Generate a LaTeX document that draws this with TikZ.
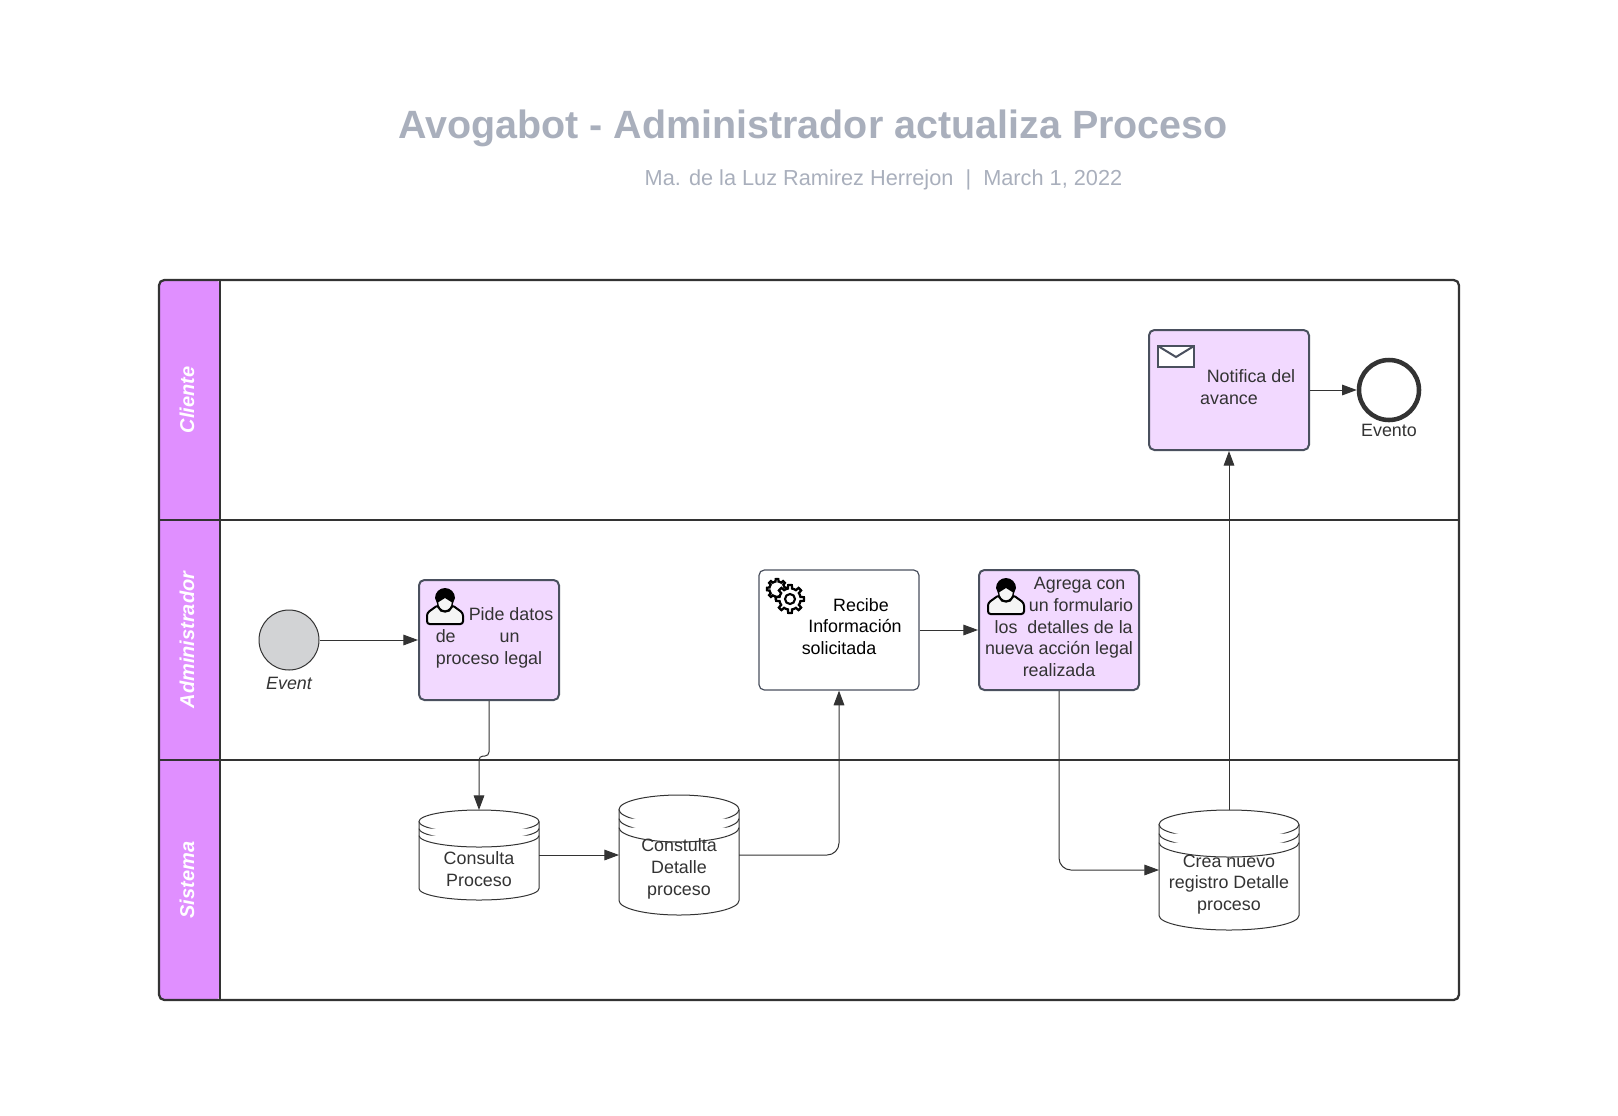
\documentclass[tikz,border=0pt]{standalone}
\usepackage{fontspec}
\setmainfont{Liberation Sans}
\usetikzlibrary{arrows.meta}
\definecolor{bpLine}{HTML}{4A505E}
\definecolor{bpDark}{HTML}{333333}
\definecolor{bpLane}{HTML}{E08FFF}
\definecolor{bpTask}{HTML}{F2D9FF}
\definecolor{bpTitle}{HTML}{A9AFBC}
\definecolor{bpEvent}{HTML}{D2D3D5}

\newcommand{\bpfont}{\fontsize{13.4}{16.3}\selectfont}

% user icon: left, top
\newcommand{\bpuser}[2]{
  \draw[black, line width=1.5pt, fill=white!96!black, rounded corners=2pt] (#1,#2+36) -- (#1,#2+25) -- (#1+11,#2+17)
    .. controls (#1+13,#2+25) and (#1+23,#2+25) .. (#1+25,#2+17) -- (#1+36,#2+25) -- (#1+36,#2+36) -- cycle;
  \draw[black, line width=1pt, fill=white!96!black] (#1+18,#2+14) ellipse (7.5 and 9);
  \fill[black] (#1+8,#2+10) arc[start angle=180, end angle=0, x radius=10, y radius=-10] -- (#1+26,#2+15) -- (#1+18,#2+10) -- (#1+10,#2+15) -- cycle;
}
% gear icon: centre, radius
\newcommand{\bpgear}[3]{
  \draw[black, line width=1.7pt, fill=white, shift={(#1,#2)}] plot[domain=0:360, samples=97] (\x:{#3*(cos(8*\x)>0 ? 1 : 0.76)}) -- cycle;
}
% data store: name, centre x, top, bottom, half width, arc height, gap
\newcommand{\bpstore}[7]{
  \draw[store] (#2-#5,#3+#6) -- (#2-#5,#4-#6) arc[start angle=180, end angle=0, x radius=#5, y radius=#6] -- (#2+#5,#3+#6);
  \draw[store] (#2,#3+#6) ellipse[x radius=#5, y radius=#6];
  \draw[store] (#2-#5,#3+#6+#7) arc[start angle=180, end angle=0, x radius=#5, y radius=#6];
  \draw[store] (#2-#5,#3+#6+2*#7) arc[start angle=180, end angle=0, x radius=#5, y radius=#6];
  \node[minimum width={2*#5*0.75pt}, minimum height={(#4-#3)*0.75pt}, inner sep=0pt, outer sep=0pt] (#1) at (#2,{(#3+#4)/2}) {};
}

\begin{document}
\begin{tikzpicture}[x=0.75pt, y=-0.75pt,
  task/.style={draw=bpLine, line width=1.5pt, fill=bpTask, rounded corners=4pt, minimum width=120pt, minimum height=90pt, inner sep=0pt},
  whitetask/.style={task, line width=0.9pt, fill=white},
  lane/.style={rotate=90, text=white, font=\fontsize{15}{16}\selectfont\bfseries\itshape},
  store/.style={draw=bpDark, line width=0.75pt, fill=white},
  lbl/.style={text=bpDark, align=center, font=\bpfont, inner sep=0pt},
  arr/.style={-{Triangle[length=11pt,width=8pt]}, line width=0.75pt, color=bpDark}
]
  \useasboundingbox (0,0) rectangle (1618,1115);

  \node[font=\fontsize{29.6}{32}\selectfont\bfseries, text=bpTitle] (title) at (813,128) {Avogabot - Administrador actualiza Proceso};
  \node[font=\fontsize{16.3}{18}\selectfont, text=bpTitle] (subtitle) at (883.5,180) {Ma. de la Luz Ramirez Herrejon\ \ |\ \ March 1, 2022};

  % Lanes
  \fill[bpLane, rounded corners=4pt] (159,280) rectangle (220,1000);
  \draw[bpDark, line width=1.7pt, rounded corners=4pt] (159,280) rectangle (1459,1000);
  \draw[bpDark, line width=1.7pt] (220,280) -- (220,1000);
  \draw[bpDark, line width=1.7pt] (159,520) -- (1459,520);
  \draw[bpDark, line width=1.7pt] (159,760) -- (1459,760);
  \node[lane] (cliente) at (187,400) {Cliente};
  \node[lane] (admin) at (187,640) {Administrador};
  \node[lane] (sistema) at (187,880) {Sistema};

  % Events
  \node[circle, draw=bpDark, line width=0.75pt, fill=bpEvent, minimum size=45pt, inner sep=0pt] (start) at (289,640) {};
  \node[lbl, font=\bpfont\itshape] (startlbl) at (289,683) {Event};
  \node[circle, draw=bpDark, line width=3.4pt, fill=white, minimum size=45pt, inner sep=0pt] (end) at (1389,390) {};
  \node[lbl] (endlbl) at (1389,430.5) {Evento};

  % Tasks
  \node[task, minimum width=105pt] (pide) at (489,640) {};
  \node[lbl] (pidelbl) at (489,638) {\hspace*{33pt}Pide datos\\de\hspace{33pt}un\hspace*{17pt}\mbox{}\\proceso legal};
  \node[whitetask] (recibe) at (839,630) {};
  \node[lbl, text=black] (recibelbl) at (839,626.5) {\hspace*{33pt}Recibe\\\hspace*{24pt}Información\\solicitada};
  \node[task] (agrega) at (1059,630) {};
  \node[lbl] (agregalbl) at (1059,627) {\hspace*{31pt}Agrega con\\\hspace*{33pt}un formulario\\\hspace*{7pt}los\ \ detalles de la\\nueva acción legal\\realizada};
  \node[task] (notif) at (1229,390) {};
  \node[lbl] (notiflbl) at (1229,387) {\hspace*{33pt}Notifica del\\avance};

  % Icons
  \bpuser{427}{588}
  \bpuser{988}{578}
  \draw[bpLine, line width=1.5pt, fill=white] (1158,346) rectangle (1194,367);
  \draw[bpLine, line width=1.5pt] (1158,346) -- (1176,357) -- (1194,346);
  \bpgear{777}{589}{10}
  \bpgear{790}{599}{14}
  \draw[black, line width=1.6pt, fill=white] (790,599) circle (5);

  % Data stores
  \bpstore{consulta}{479}{810}{900}{60}{11.5}{7}
  \bpstore{detalle}{679}{795}{915}{60}{14.5}{9}
  \bpstore{crea}{1229}{810}{930}{70}{14.5}{9}
  \node[lbl] (consultalbl) at (479,869) {Consulta\\Proceso};
  \node[lbl] (detallelbl) at (679,869) {Constulta\\Detalle\\proceso};
  \node[lbl] (crealbl) at (1229,884.5) {Crea nuevo\\registro Detalle\\proceso};

  % Connectors
  \draw[arr] (start) -- (pide);
  \draw[arr, rounded corners=3pt] (pide.south) -- ++(0,55) -| (consulta.north);
  \draw[arr] (consulta) -- (detalle);
  \draw[arr, rounded corners=9pt] (detalle) -| (recibe.south);
  \draw[arr] (recibe) -- (agrega);
  \draw[arr, rounded corners=9pt] (agrega.south) |- (crea);
  \draw[arr] (crea.north) -- (notif.south);
  \draw[arr] (notif) -- (end);
\end{tikzpicture}
\end{document}
